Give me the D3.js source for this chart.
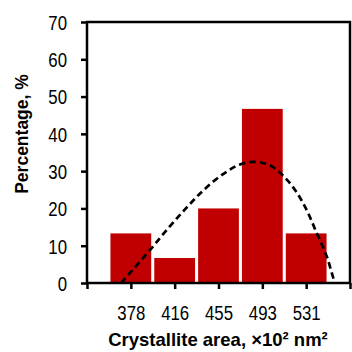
<!DOCTYPE html>
<html>
<head>
<meta charset="utf-8">
<script src="https://cdn.jsdelivr.net/npm/d3@7"></script>
<style>
  html, body { margin: 0; padding: 0; background: #fff; }
  svg { display: block; }
  .tick-label { font-family: "Liberation Sans", Arial, sans-serif; font-size: 21px; fill: #000; }
  .axis-title { font-family: "Liberation Sans", Arial, sans-serif; font-weight: bold; font-size: 18.5px; fill: #000; }
</style>
</head>
<body>
<svg id="chart" width="352" height="352"></svg>
<script>
// Size classes of crystallite area (×10² nm²) and share of crystallites in each
const categories = ["378", "416", "455", "493", "531"];
const percentages = [13.3, 6.7, 20.0, 46.7, 13.3];
const yTicks = [0, 10, 20, 30, 40, 50, 60, 70];

// Fitted distribution curve: position (in class units) and percentage
const fitX = [-0.22, 0.44, 0.89, 1.24, 1.58, 1.92, 2.22, 2.49, 2.83, 3.18, 3.48, 3.75, 4.01, 4.24, 4.47, 4.62, 4.66];
const fitY = [0.0, 8.9, 15.2, 19.8, 24.0, 27.6, 30.1, 31.8, 32.5, 31.5, 28.7, 24.9, 19.6, 13.4, 7.1, 1.3, 0.0];

const svg = d3.select("#chart");
const plotL = 87, plotR = 350, plotT = 22, plotB = 283;
const narrow = 0.8; // horizontal squeeze for the condensed tick numerals

// Class positions: one slot before the first class and one after the last
const x = d3.scaleLinear().domain([-1, categories.length]).range([plotL, plotR]);
const y = d3.scaleLinear().domain([0, 70]).range([plotB, plotT]);
const slot = x(1) - x(0);
const barW = slot * 0.93;

// Bars
svg.append("g").selectAll("rect")
  .data(percentages)
  .join("rect")
  .attr("x", (d, i) => x(i) - barW / 2)
  .attr("y", d => y(d))
  .attr("width", barW)
  .attr("height", d => y(0) - y(d))
  .attr("fill", "#C00000");

// Dashed fitted curve
const fitPts = fitX.map((v, i) => [v, fitY[i]]);
svg.append("path")
  .datum(fitPts)
  .attr("fill", "none")
  .attr("stroke", "#000")
  .attr("stroke-width", 2.7)
  .attr("stroke-dasharray", "6.5,4")
  .attr("d", d3.line().x(d => x(d[0])).y(d => y(d[1])).curve(d3.curveCatmullRom));

// Frame
svg.append("rect")
  .attr("x", plotL).attr("y", plotT)
  .attr("width", plotR - plotL).attr("height", plotB - plotT)
  .attr("fill", "none").attr("stroke", "#000").attr("stroke-width", 2.5);

// Y axis
const yAxis = d3.axisLeft(y).tickValues(yTicks).tickSize(6).tickPadding(14);
const gy = svg.append("g").attr("transform", `translate(${plotL},0)`).call(yAxis);
gy.select(".domain").remove();
gy.selectAll(".tick line").attr("stroke-width", 2.5);
gy.selectAll(".tick text")
  .attr("class", "tick-label").attr("font-size", null).attr("font-family", null)
  .attr("x", -20 / narrow).attr("dy", "0.35em")
  .attr("transform", `scale(${narrow},1)`);

// X axis: ticks between every slot, labels on the classes
const xAxis = d3.axisBottom(x)
  .tickValues(d3.range(-1, categories.length + 1))
  .tickSize(6).tickPadding(16)
  .tickFormat(d => categories[d] || "");
const gx = svg.append("g").attr("transform", `translate(0,${plotB})`).call(xAxis);
gx.select(".domain").remove();
gx.selectAll(".tick line").attr("stroke-width", 2.5);
gx.selectAll(".tick text")
  .attr("class", "tick-label").attr("font-size", null).attr("font-family", null)
  .attr("transform", `scale(${narrow},1)`);

// Axis titles
svg.append("text")
  .attr("class", "axis-title")
  .attr("x", 218)
  .attr("y", 346)
  .attr("text-anchor", "middle")
  .text("Crystallite area, ×10² nm²");

svg.append("text")
  .attr("class", "axis-title")
  .attr("transform", "translate(28,134) rotate(-90)")
  .attr("text-anchor", "middle")
  .style("font-size", "17.5px")
  .text("Percentage, %");
</script>
</body>
</html>
